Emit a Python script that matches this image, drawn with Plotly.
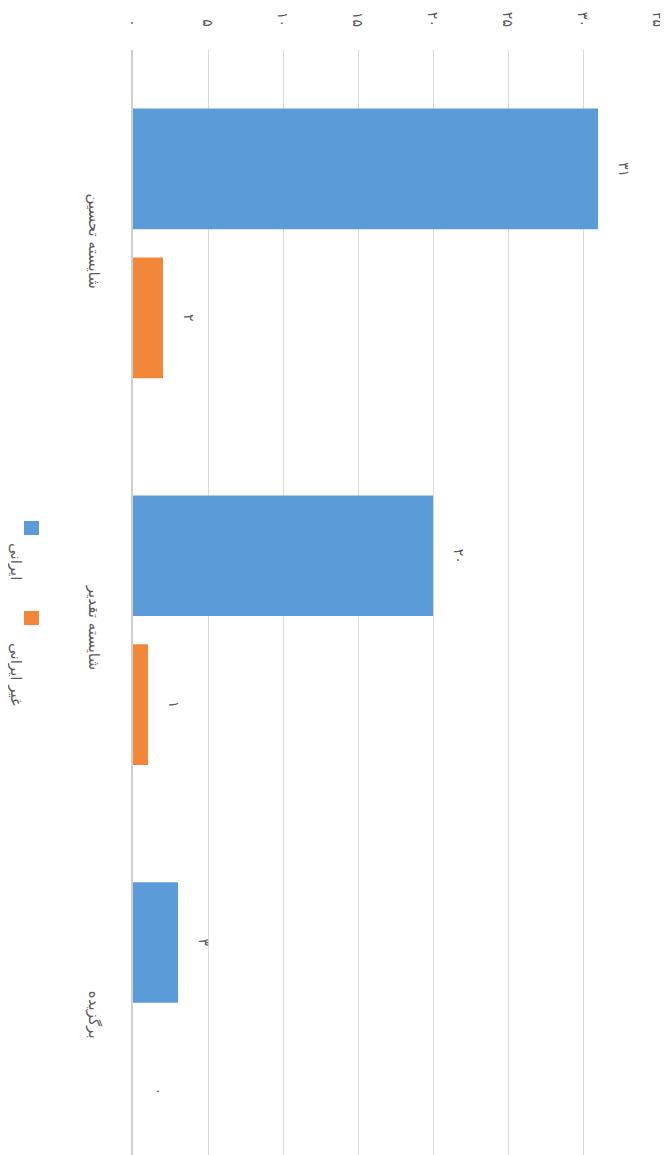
import plotly.graph_objects as go

categories = ["شایسته تحسین", "شایسته تقدیر", "برگزیده"]
iranian = [31, 20, 3]
non_iranian = [2, 1, 0]
series_names = ["ایرانی", "غیر ایرانی"]
tick_vals = [0, 5, 10, 15, 20, 25, 30, 35]
tick_text = ["۰", "۵", "۱۰", "۱۵", "۲۰", "۲۵", "۳۰", "۳۵"]

fa_digits = str.maketrans("0123456789", "۰۱۲۳۴۵۶۷۸۹")
def fa(v):
    return str(v).translate(fa_digits)

BLUE = "#5a9bd8"
ORANGE = "#f2873a"
TXT = "#595959"
FONT = "DejaVu Sans"

fig = go.Figure()
fig.add_trace(go.Bar(y=categories, x=iranian, orientation="h", name=series_names[0],
                     marker=dict(color=BLUE, line=dict(width=0))))
fig.add_trace(go.Bar(y=categories, x=non_iranian, orientation="h", name=series_names[1],
                     marker=dict(color=ORANGE, line=dict(width=0))))

annotations = []
for vals, shift in ((iranian, 74.5), (non_iranian, -74.5)):
    for c, v in zip(categories, vals):
        annotations.append(dict(x=v, y=c, xref="x", yref="y", text=fa(v), showarrow=False,
                                textangle=90, xshift=26, yshift=shift,
                                xanchor="center", yanchor="middle",
                                font=dict(family=FONT, size=14, color=TXT)))

# legend (rotated, drawn with annotations + swatches)
annotations.append(dict(x=-0.2229, y=0.5367, xref="paper", yref="paper", text=series_names[0],
                        showarrow=False, textangle=90, xanchor="center", yanchor="middle",
                        font=dict(family=FONT, size=15, color=TXT)))
annotations.append(dict(x=-0.2229, y=0.4344, xref="paper", yref="paper", text=series_names[1],
                        showarrow=False, textangle=90, xanchor="center", yanchor="middle",
                        font=dict(family=FONT, size=15, color=TXT)))
shapes = [
    dict(type="rect", xref="paper", yref="paper", x0=-0.2076, x1=-0.179, y0=0.5611, y1=0.5738,
         fillcolor=BLUE, line=dict(width=0)),
    dict(type="rect", xref="paper", yref="paper", x0=-0.2076, x1=-0.179, y0=0.4796, y1=0.4923,
         fillcolor=ORANGE, line=dict(width=0)),
]

# page body has an 8px margin, so the figure is sized 8px smaller
fig.update_layout(
    width=660, height=1147,
    margin=dict(l=125, r=10, t=42, b=0),
    paper_bgcolor="white", plot_bgcolor="white",
    barmode="group", bargap=0.23, bargroupgap=0.19,
    showlegend=False,
    annotations=annotations, shapes=shapes,
    font=dict(family=FONT, color=TXT),
    xaxis=dict(range=[0, 35], side="top", tickvals=tick_vals, ticktext=tick_text,
               tickangle=90, showgrid=True, gridcolor="#d9d9d9", gridwidth=1,
               zeroline=False, showline=False, ticks="", ticklabelstandoff=20,
               automargin=False, tickfont=dict(family=FONT, size=14, color=TXT)),
    yaxis=dict(range=[2.357, -0.5], tickangle=90, showgrid=False, zeroline=False,
               showline=True, linecolor="#cfcfcf", linewidth=1.5, ticks="",
               ticklabelstandoff=24, automargin=False,
               tickfont=dict(family=FONT, size=15, color=TXT)),
)

fig.write_html("out.html")
